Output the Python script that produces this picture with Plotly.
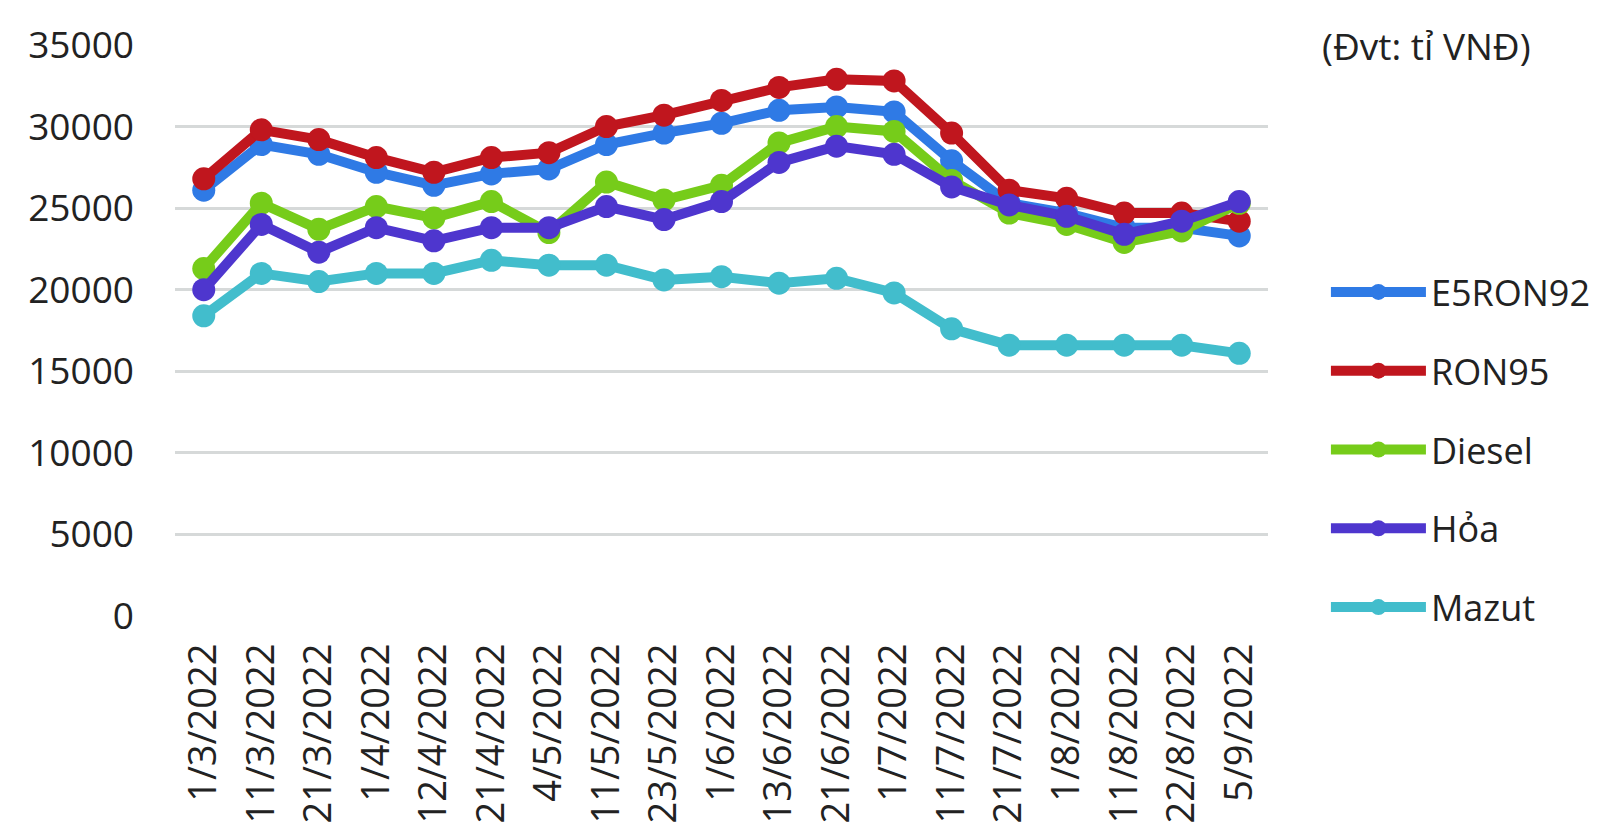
import plotly.graph_objects as go

dates = ["1/3/2022", "11/3/2022", "21/3/2022", "1/4/2022", "12/4/2022", "21/4/2022",
         "4/5/2022", "11/5/2022", "23/5/2022", "1/6/2022", "13/6/2022", "21/6/2022",
         "1/7/2022", "11/7/2022", "21/7/2022", "1/8/2022", "11/8/2022", "22/8/2022",
         "5/9/2022"]

e5ron92 = [26100, 28900, 28300, 27200, 26400, 27100, 27400, 28900, 29600, 30200,
           31000, 31200, 30900, 27900, 25300, 24700, 23800, 23800, 23300]
ron95 = [26800, 29800, 29200, 28100, 27200, 28100, 28400, 30000, 30700, 31600,
         32400, 32900, 32800, 29600, 26100, 25600, 24700, 24700, 24200]
diesel = [21300, 25300, 23700, 25100, 24400, 25400, 23500, 26600, 25500, 26400,
          29000, 30000, 29700, 26700, 24700, 24000, 22900, 23600, 25300]
hoa = [20000, 24000, 22300, 23800, 23000, 23800, 23800, 25100, 24300, 25400,
       27800, 28800, 28300, 26300, 25200, 24500, 23400, 24200, 25400]
mazut = [18400, 21000, 20500, 21000, 21000, 21800, 21500, 21500, 20600, 20800,
         20400, 20700, 19800, 17600, 16600, 16600, 16600, 16600, 16100]

series_names = ["E5RON92", "RON95", "Diesel", "Hỏa", "Mazut"]
series_values = [e5ron92, ron95, diesel, hoa, mazut]
colors = ["#2F7AE5", "#C0161E", "#76CC1A", "#4E36CE", "#42BDCC"]

y_ticks = [0, 5000, 10000, 15000, 20000, 25000, 30000, 35000]
unit_label = "(Đvt: tỉ VNĐ)"

FONT = "Open Sans"
TXT = "#222222"

fig = go.Figure()
for name, vals, col in zip(series_names, series_values, colors):
    fig.add_trace(go.Scatter(
        x=dates, y=vals, name=name, mode="lines+markers",
        line=dict(color=col, width=10),
        marker=dict(color=col, size=23),
        legendgroup=name,
        cliponaxis=False,
    ))

fig.update_layout(
    width=1592, height=831,
    margin=dict(l=167, r=332, t=37, b=223, autoexpand=False),
    paper_bgcolor="white", plot_bgcolor="white",
    font=dict(family=FONT, size=36, color=TXT),
    showlegend=True,
    legend=dict(
        x=1.053, y=0.62, xanchor="left", yanchor="top",
        font=dict(family=FONT, size=36, color=TXT),
        itemwidth=95, tracegroupgap=29,
        bgcolor="rgba(0,0,0,0)",
    ),
    annotations=[dict(
        text=unit_label, xref="paper", yref="paper",
        x=1.1446, y=1.0, xanchor="center", yanchor="middle",
        showarrow=False, font=dict(family=FONT, size=37, color=TXT),
    )],
)

fig.update_xaxes(
    type="category", range=[-0.5, len(dates) - 0.5], automargin=False,
    tickangle=-90, showgrid=False, showline=False,
    zeroline=False, ticks="", ticklabelstandoff=19,
    tickfont=dict(family=FONT, size=38, color=TXT),
)
fig.update_yaxes(
    range=[0, 35000], tickvals=y_ticks, ticktext=[str(v) for v in y_ticks],
    automargin=False,
    showgrid=True, gridcolor="#D6D9D9", gridwidth=3,
    zeroline=False, showline=False, ticks="", ticklabelstandoff=40,
    tickfont=dict(family=FONT, size=37, color=TXT),
)

fig.write_html("out.html")
